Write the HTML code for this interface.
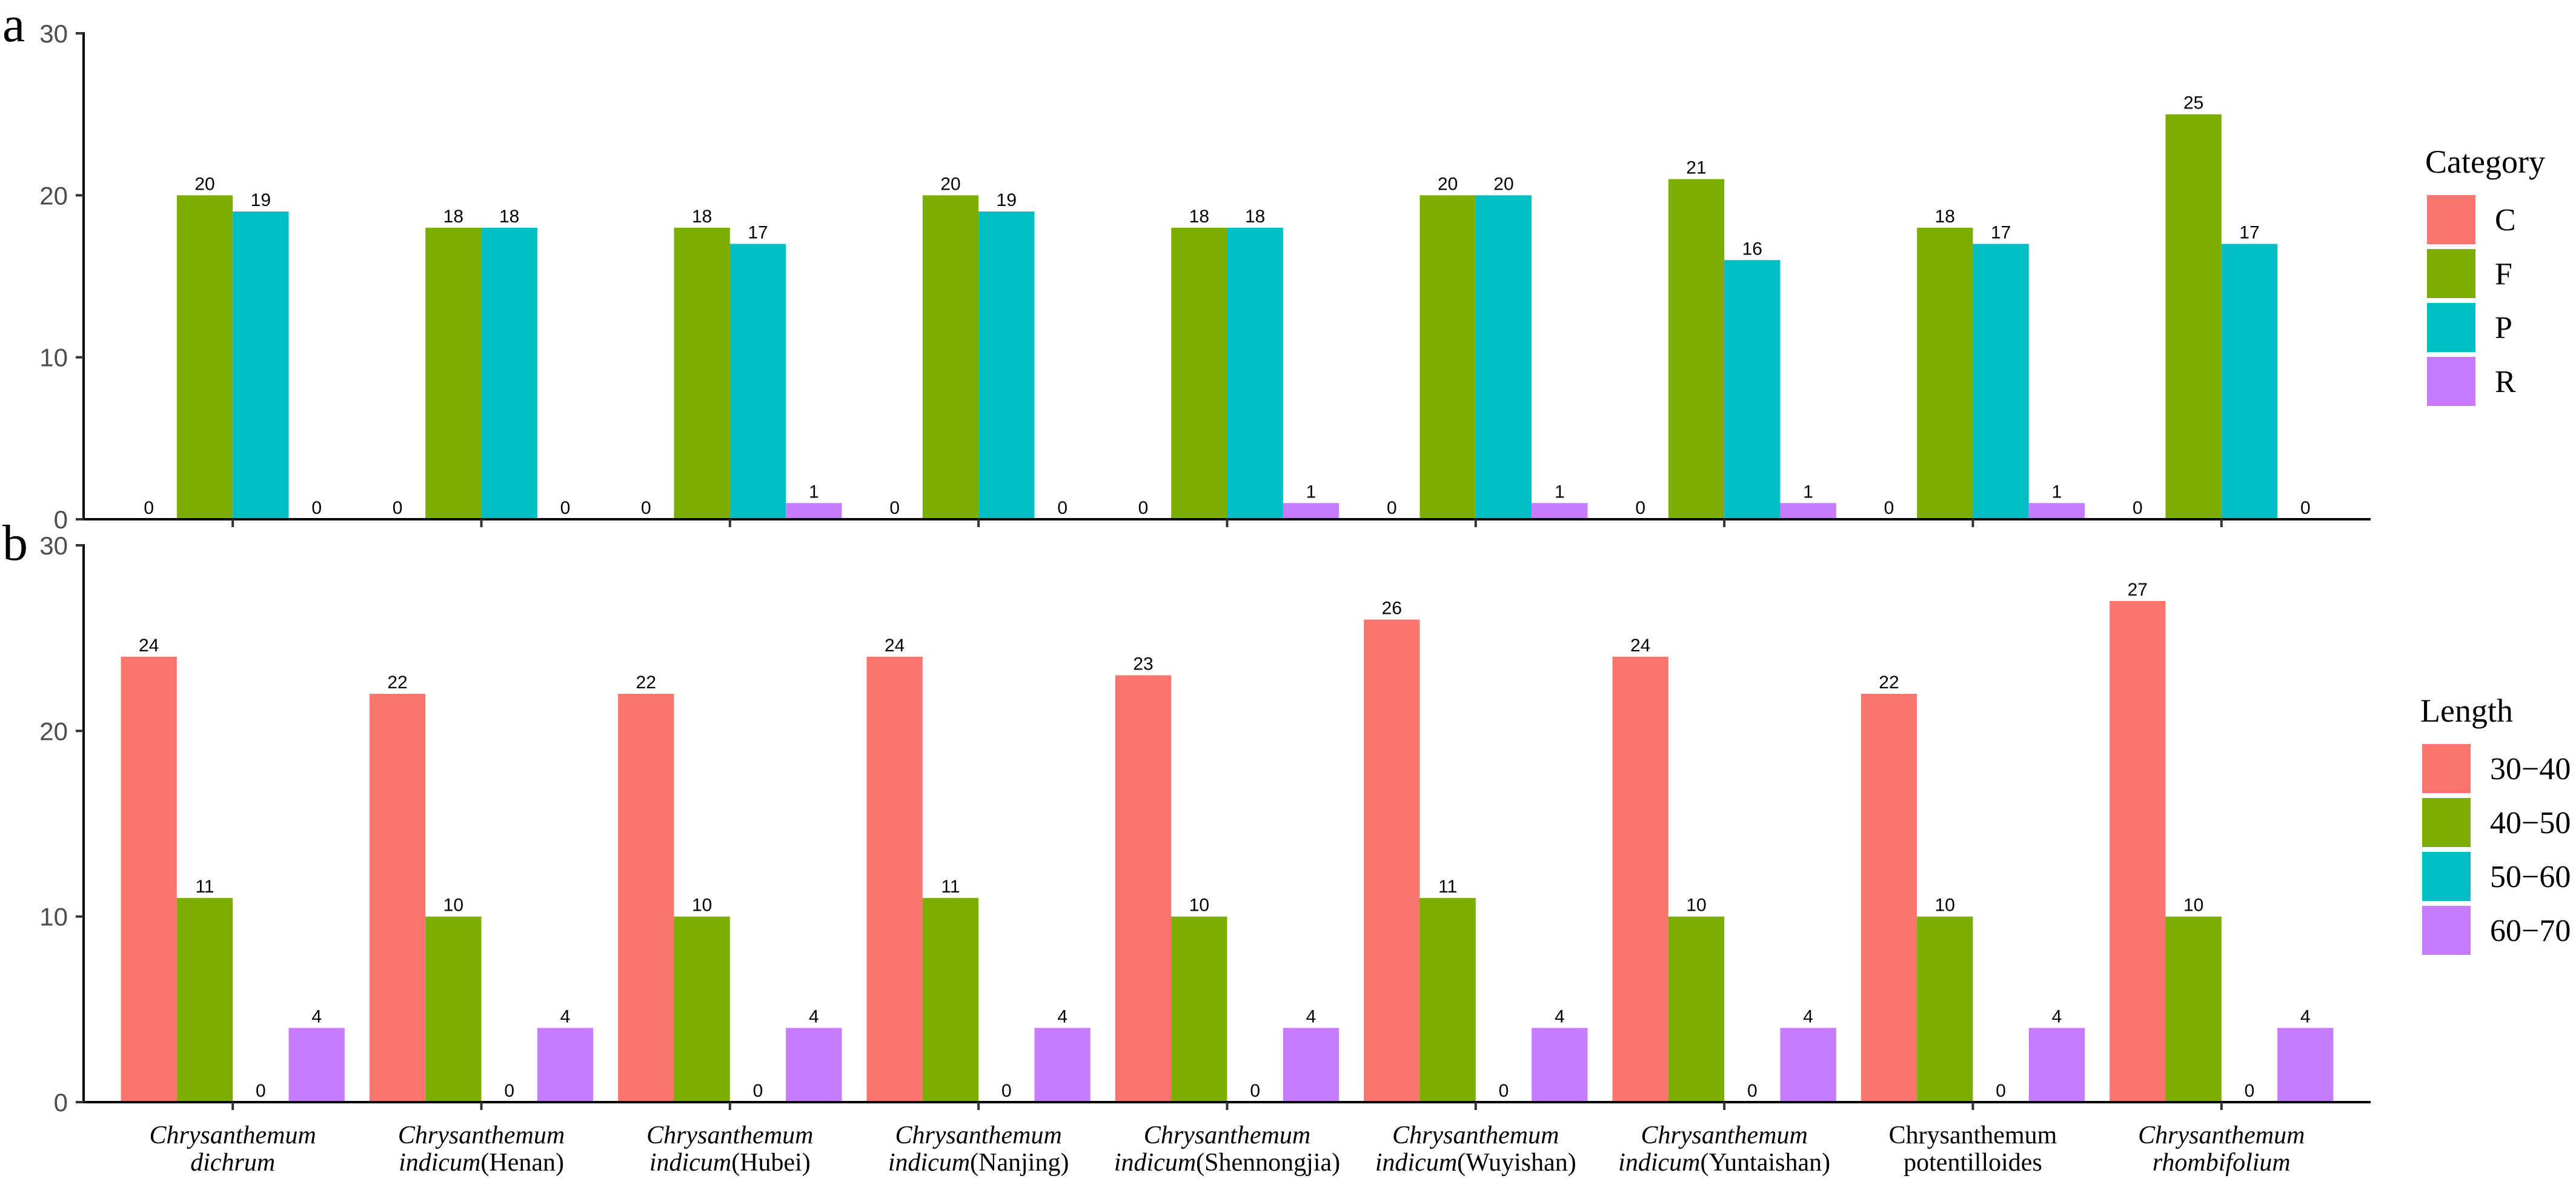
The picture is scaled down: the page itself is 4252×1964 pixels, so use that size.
<!DOCTYPE html>
<html><head><meta charset="utf-8"><style>
html,body{margin:0;padding:0;background:#fff;}
svg{display:block;}
</style></head><body>
<svg id="chart" width="4252" height="1964" xmlns="http://www.w3.org/2000/svg"></svg>
<script>
const categories = ["dichrum","Henan","Hubei","Nanjing","Shennongjia","Wuyishan","Yuntaishan","potentilloides","rhombifolium"];
const aSeriesNames = ["C","F","P","R"];
const aC = [0,0,0,0,0,0,0,0,0];
const aF = [20,18,18,20,18,20,21,18,25];
const aP = [19,18,17,19,18,20,16,17,17];
const aR = [0,0,1,0,1,1,1,1,0];
const bSeriesNames = ["30\u221240","40\u221250","50\u221260","60\u221270"];
const b3040 = [24,22,22,24,23,26,24,22,27];
const b4050 = [11,10,10,11,10,11,10,10,10];
const b5060 = [0,0,0,0,0,0,0,0,0];
const b6070 = [4,4,4,4,4,4,4,4,4];
const yTicks = [0,10,20,30];
const colors = ["#F8766D","#7CAE00","#00BFC4","#C77CFF"];

const NS = "http://www.w3.org/2000/svg";
const svg = document.getElementById('chart');
function mk(tag, attrs, parent){ const e=document.createElementNS(NS,tag); for(const k in attrs) e.setAttribute(k,attrs[k]); (parent||svg).appendChild(e); return e; }

const xLeft = 138, xRight = 3913;
const n = categories.length;
const step = (xRight - xLeft) / (n - 1 + 1.2);
function xCenter(i){ return xLeft + step*(0.6 + i); }
const barW = step*0.9/4;

function drawPanel(name, y0, y30, series, seriesNames, legendTitle, legX, legY){
  const g = mk('g',{});
  
  
  const yScale = v => y0 - (y0 - y30) * v / 30;
  series.forEach((vals, s) => {
    vals.forEach((v, i) => {
      const x = xCenter(i) - 2*barW + s*barW;
      const r = mk('rect',{x:x, y:yScale(v), width:barW, height:y0 - yScale(v), fill:colors[s]}, g);
      
      
      const t = mk('text',{x:x+barW/2, y:yScale(v)-9, 'text-anchor':'middle', 'font-family':'Liberation Sans, sans-serif', 'font-size':30, fill:'#000'}, g);
      t.textContent = v;
      
      
    });
  });
  // axes
  const ya = mk('line',{x1:xLeft, y1:y30-2, x2:xLeft, y2:y0+2, stroke:'#000','stroke-width':4}, g);
  
  
  const xa = mk('line',{x1:xLeft-2, y1:y0, x2:xRight, y2:y0, stroke:'#000','stroke-width':4}, g);
  
  
  yTicks.forEach(v => {
    const y = yScale(v);
    mk('line',{x1:xLeft-13, y1:y, x2:xLeft, y2:y, stroke:'#333','stroke-width':4}, g);
    const t = mk('text',{x:112, y:y+15, 'text-anchor':'end', 'font-family':'Liberation Sans, sans-serif', 'font-size':42, fill:'#4d4d4d'}, g);
    t.textContent = v;
    
    
  });
  categories.forEach((c, i) => {
    mk('line',{x1:xCenter(i), y1:y0, x2:xCenter(i), y2:y0+13, stroke:'#333','stroke-width':4}, g);
  });
  // legend
  const lg = mk('g',{}, g);
  
  
  const tt = mk('text',{x:legX-3, y:legY-37, 'font-family':'Liberation Serif, serif', 'font-size':54, fill:'#000'}, lg);
  tt.textContent = legendTitle;
  
  
  seriesNames.forEach((s, k) => {
    const ky = legY + k*89;
    const r = mk('rect',{x:legX, y:ky, width:80, height:81, fill:colors[k]}, lg);
    
    
    const t = mk('text',{x:legX+112, y:ky+58, 'font-family':'Liberation Serif, serif', 'font-size':52, fill:'#000'}, lg);
    t.textContent = s;
    
    
  });
}

drawPanel('panel-a', 857, 55, [aC,aF,aP,aR], aSeriesNames, 'Category', 4006, 322);
drawPanel('panel-b', 1819, 900, [b3040,b4050,b5060,b6070], bSeriesNames, 'Length', 3998, 1228);

// panel letters
const la = mk('text',{x:4, y:68, 'font-family':'Liberation Serif, serif', 'font-size':84, fill:'#000'});
la.textContent = 'a';


const lb = mk('text',{x:4, y:924, 'font-family':'Liberation Serif, serif', 'font-size':84, fill:'#000'});
lb.textContent = 'b';



// x labels
categories.forEach((c, i) => {
  const x = xCenter(i);
  const t1 = mk('text',{x:x, y:1887, 'text-anchor':'middle', 'font-family':'Liberation Serif, serif', 'font-size':42, fill:'#000', 'font-style': i===7 ? 'normal' : 'italic'});
  t1.textContent = 'Chrysanthemum';
  
  
  const t2 = mk('text',{x:x, y:1932, 'text-anchor':'middle', 'font-family':'Liberation Serif, serif', 'font-size':42, fill:'#000'});
  
  
  if (i === 0 || i === 8) {
    t2.setAttribute('font-style','italic');
    t2.textContent = c;
  } else if (i === 7) {
    t2.textContent = c;
  } else {
    const s1 = mk('tspan',{'font-style':'italic'}, t2);
    s1.textContent = 'indicum';
    const s2 = mk('tspan',{}, t2);
    s2.textContent = '(' + c + ')';
  }
});
</script>
</body></html>
